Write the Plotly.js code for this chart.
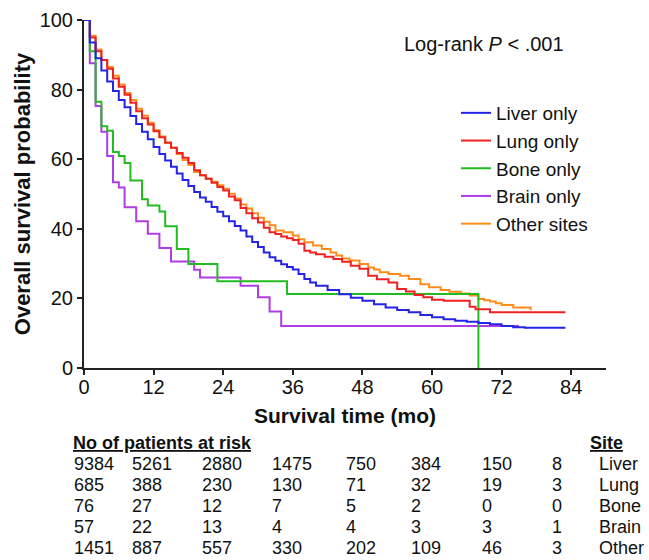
<!DOCTYPE html>
<html>
<head>
<meta charset="utf-8">
<script src="https://cdn.plot.ly/plotly-3.0.1.min.js"></script>
<style>html,body{margin:0;padding:0;background:#fff;}#chart{width:649px;height:560px;}</style>
</head>
<body>
<div id="chart"></div>
<script>
// ---- Data ----
const seriesNames = ['Liver only', 'Lung only', 'Bone only', 'Brain only', 'Other sites'];

const liverT = [0,1,2,3,4,5,6,7,8,9,10,11,12,13,14,15,16,17,18,19,20,21,22,23,24,25,26,27,28,29,30,31,32,33,34,35,36,37,38,39,40,42,44,46,48,50,52,54,56,58,60,62,64,66,68,70,72,74,76,83];
const liverS = [100,93.5,89.0,85.5,82.3,79.6,77.0,74.9,72.4,70.1,67.9,65.7,63.5,61.5,59.6,57.8,55.9,54.0,52.3,50.6,49.0,47.8,46.3,44.9,43.6,42.2,40.8,39.5,37.8,36.2,34.8,33.2,31.8,30.8,29.8,29.0,28.3,27.0,25.6,24.6,23.6,22.4,21.2,20.2,19.3,18.3,17.4,16.7,16.0,15.2,14.6,14.0,13.6,13.3,12.9,12.6,12.1,11.7,11.6,11.6];

const lungT = [0,1,2,3,4,5,6,7,8,9,10,11,12,13,14,15,16,17,18,19,20,21,22,23,24,25,26,27,28,29,30,31,32,33,34,35,36,37,38,39,40,41.5,43,44.5,46,47.5,49,50.5,52.5,54,55.5,57,58.5,60,62,66.5,67.5,70,83];
const lungS = [100,95,91,88.5,86,83.2,80.8,78.5,76.2,73.8,71.8,70,68,66.3,64.7,63.3,61.8,60.4,58.9,56.8,55.4,54.4,53.2,52,51,49.3,48.2,46,44.5,43,41.8,40.3,39.0,38.5,37.8,37.3,36.8,35.7,33.7,33.2,32.7,32.0,31.3,30.5,29.4,28.5,26.5,25.5,24.6,22.7,22.0,21.0,20.3,19.6,19.3,17.6,16.9,16.0,16.0];

const boneT = [0,1,2,3,4,5,6,7,8,10,11,13,14,16,18,23,35,68];
const boneS = [100,91,76.5,69.5,68.2,62.1,60.9,58.9,53.9,48.5,46.7,45.0,40.7,34.2,29.9,24.9,21.3,0];

const brainT = [0,1,2,3,4,5,6,7,9,11,13,15,19,20,27,30,32,34,75];
const brainS = [100,87.6,75.3,67.9,60.9,53.4,51.9,46.2,42.2,38.6,34.5,30.6,28.2,26.0,23.6,20.3,16.2,12.1,12.1];

const otherT = [0,1,2,3,4,5,6,7,8,9,10,11,12,13,14,15,16,17,18,19,20,21,22,23,24,25,26,27,28,29,30,31,32,33,34.4,36,37,38,39.5,41,42.5,43.5,44.5,45.8,47.5,49,50,51,52.5,54.5,56,58,59.5,61.5,63,65,66.5,68,69,70,71,72,74,77];
const otherS = [100,95.5,91.5,88.5,86.5,84,81.5,79,77,74.5,72.5,70.5,68.3,66.5,64.8,63.3,61.5,59.8,58.3,56.3,55.4,54.4,53.5,52.5,51.5,50.1,48.7,47.0,45.8,44.5,43.2,42.0,41.0,39.5,39.0,38.1,37.0,36.1,35.2,34.2,33.2,32.3,31.5,30.9,29.9,28.9,28.3,27.5,27.0,26.5,25.6,24.1,23.2,22.4,21.9,21.4,20.8,19.8,19.5,19.1,18.6,18.1,17.4,16.6];

const xTicks = [0,12,24,36,48,60,72,84];
const yTicks = [0,20,40,60,80,100];

const riskHeader = 'No of patients at risk';
const siteHeader = 'Site';
const siteLabels = ['Liver', 'Lung', 'Bone', 'Brain', 'Other'];
const riskLiver = [9384,5261,2880,1475,750,384,150,8];
const riskLung  = [685,388,230,130,71,32,19,3];
const riskBone  = [76,27,12,7,5,2,0,0];
const riskBrain = [57,22,13,4,4,3,3,1];
const riskOther = [1451,887,557,330,202,109,46,3];
const pText = 'Log-rank <i>P</i> < .001';

// ---- Styling / layout ----
const colors = ['#2424e6', '#ee2222', '#22bb22', '#b03ce6', '#ff8c1a'];
const FONT = 'Liberation Sans, Arial, Helvetica, sans-serif';
const W = 649, H = 560;
const M = {l: 84, r: 43, t: 20, b: 192};
const PW = W - M.l - M.r, PH = H - M.t - M.b;
const px2paperX = p => (p - M.l) / PW;
const py2paperY = p => (H - M.b - p) / PH;

const seriesT = [liverT, lungT, boneT, brainT, otherT];
const seriesS = [liverS, lungS, boneS, brainS, otherS];
const drawOrder = [4, 3, 2, 1, 0];

const traces = drawOrder.map(i => ({
  type: 'scatter', mode: 'lines',
  x: seriesT[i], y: seriesS[i],
  name: seriesNames[i],
  legendrank: i + 1,
  line: {shape: 'hv', color: colors[i], width: 2},
  cliponaxis: false,
  hoverinfo: 'skip'
}));

const annotations = [];
annotations.push({
  xref: 'paper', yref: 'paper', x: px2paperX(402), y: py2paperY(44),
  xanchor: 'left', yanchor: 'middle', showarrow: false,
  text: pText, font: {family: FONT, size: 20, color: '#111'}
});
const colPx = [73, 131, 201, 271, 345, 410, 481, 551];
const rowPy = [464, 485, 506, 527, 548];
const TF = 18;
const riskRows = [riskLiver, riskLung, riskBone, riskBrain, riskOther];
annotations.push({
  xref: 'paper', yref: 'paper', x: px2paperX(72), y: py2paperY(443),
  xanchor: 'left', yanchor: 'middle', showarrow: false, borderpad: 0,
  text: '<b><u>' + riskHeader + '</u></b>', font: {family: FONT, size: TF, color: '#111'}
});
annotations.push({
  xref: 'paper', yref: 'paper', x: px2paperX(589), y: py2paperY(443),
  xanchor: 'left', yanchor: 'middle', showarrow: false, borderpad: 0,
  text: '<b><u>' + siteHeader + '</u></b>', font: {family: FONT, size: TF, color: '#111'}
});
riskRows.forEach((row, r) => {
  row.forEach((v, c) => {
    annotations.push({
      xref: 'paper', yref: 'paper', x: px2paperX(colPx[c]), y: py2paperY(rowPy[r]),
      xanchor: 'left', yanchor: 'middle', showarrow: false, borderpad: 0,
      text: String(v), font: {family: FONT, size: TF, color: '#111'}
    });
  });
  annotations.push({
    xref: 'paper', yref: 'paper', x: px2paperX(598), y: py2paperY(rowPy[r]),
    xanchor: 'left', yanchor: 'middle', showarrow: false, borderpad: 0,
    text: siteLabels[r], font: {family: FONT, size: TF, color: '#111'}
  });
});

const layout = {
  width: W, height: H,
  margin: M,
  paper_bgcolor: '#fff', plot_bgcolor: '#fff',
  font: {family: FONT, color: '#111'},
  showlegend: true,
  legend: {
    x: px2paperX(456), y: py2paperY(94), xanchor: 'left', yanchor: 'top',
    bgcolor: 'rgba(0,0,0,0)', borderwidth: 0,
    font: {family: FONT, size: 19, color: '#111'},
    traceorder: 'normal'
  },
  xaxis: {
    range: [0, 90], tickvals: xTicks, ticktext: xTicks.map(String),
    showgrid: false, zeroline: false,
    showline: true, linecolor: '#222', linewidth: 2,
    ticks: 'outside', ticklen: 5, tickwidth: 2, tickcolor: '#222',
    ticklabelstandoff: -5,
    tickfont: {family: FONT, size: 20, color: '#111'},
    title: {text: '<b>Survival time (mo)</b>', font: {family: FONT, size: 21, color: '#111'}, standoff: 11},
    fixedrange: true
  },
  yaxis: {
    range: [0, 100], tickvals: yTicks, ticktext: yTicks.map(String),
    showgrid: false, zeroline: false,
    showline: true, linecolor: '#222', linewidth: 2,
    ticks: 'outside', ticklen: 5, tickwidth: 2, tickcolor: '#222',
    tickfont: {family: FONT, size: 20, color: '#111'},
    title: {text: '<b>Overall survival probability</b>', font: {family: FONT, size: 22, color: '#111'}, standoff: 3},
    fixedrange: true
  },
  annotations: annotations
};

Plotly.newPlot('chart', traces, layout, {displayModeBar: false, staticPlot: true});
</script>
</body>
</html>
